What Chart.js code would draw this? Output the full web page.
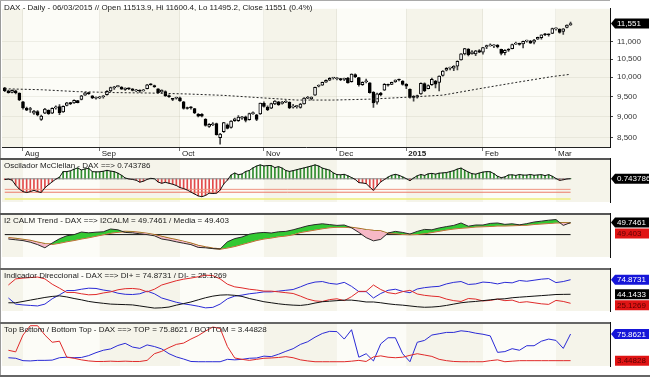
<!DOCTYPE html>
<html>
<head>
<meta charset="utf-8">
<script src="https://cdn.jsdelivr.net/npm/chart.js@4.4.1/dist/chart.umd.min.js"></script>
<style>
  body { margin: 0; background: #fff; }
  #wrap { position: relative; width: 650px; height: 377px; overflow: hidden; }
  #wrap canvas { position: absolute; left: 0; }
</style>
</head>
<body>
<div id="wrap">
  <canvas id="main" width="650" height="158" style="top:0"></canvas>
  <canvas id="mcc" width="650" height="55" style="top:158px"></canvas>
  <canvas id="calm" width="650" height="55" style="top:213px"></canvas>
  <canvas id="dmi" width="650" height="54" style="top:268px"></canvas>
  <canvas id="tb" width="650" height="55" style="top:322px"></canvas>
</div>
<script>
// daily bars, 25/07/2014 .. 06/03/2015 (index = trading day)
const monthStarts = [5, 26, 48, 71, 91, 110, 131, 151];
const monthLabels = ['Aug', 'Sep', 'Oct', 'Nov', 'Dec', '2015', 'Feb', 'Mar'];
const priceTicks = [8500, 9000, 9500, 10000, 10500, 11000];

const opens = [9720, 9640, 9600, 9640, 9580, 9360, 9200, 9170, 9080, 9120,
  8930, 9080, 9150, 9080, 9210, 9240, 9110, 9270, 9330, 9330,
  9390, 9420, 9530, 9590, 9510, 9450, 9460, 9490, 9540, 9640,
  9720, 9750, 9740, 9680, 9700, 9690, 9640, 9660, 9640, 9700,
  9810, 9770, 9690, 9610, 9620, 9520, 9440, 9450, 9460, 9360,
  9210, 9230, 9190, 9060, 9050, 8930, 8760, 8800, 8830, 8500,
  8640, 8800, 8740, 8900, 8900, 8960, 8990, 8920, 9070, 9040,
  9060, 9320, 9230, 9200, 9310, 9360, 9320, 9350, 9350, 9230,
  9240, 9220, 9310, 9450, 9440, 9530, 9760, 9790, 9870, 9920,
  9980, 9960, 9950, 9940, 9980, 9880, 10070, 9990, 9800, 9880,
  9850, 9600, 9350, 9580, 9660, 9800, 9810, 9880, 9930, 9900,
  9810, 9680, 9500, 9480, 9560, 9830, 9700, 9800, 9900, 9860,
  10050, 10190, 10250, 10250, 10300, 10480, 10650, 10790, 10650, 10650,
  10740, 10700, 10850, 10880, 10880, 10900, 10780, 10680, 10760, 10800,
  10930, 10950, 10940, 11020, 11020, 10990, 11080, 11120, 11220, 11220,
  11250, 11390, 11380, 11310, 11430, 11513.9];
const highs = [9735, 9660, 9670, 9660, 9590, 9370, 9230, 9220, 9150, 9140,
  9030, 9200, 9160, 9210, 9260, 9290, 9260, 9350, 9350, 9410,
  9400, 9525, 9600, 9600, 9520, 9490, 9500, 9520, 9650, 9740,
  9760, 9780, 9750, 9720, 9720, 9700, 9680, 9670, 9680, 9810,
  9830, 9790, 9700, 9670, 9640, 9540, 9450, 9480, 9480, 9370,
  9230, 9240, 9200, 9070, 9070, 8950, 8830, 8850, 8840, 8600,
  8860, 8820, 8900, 8960, 9020, 9000, 9010, 9080, 9110, 9050,
  9330, 9360, 9260, 9330, 9390, 9370, 9370, 9390, 9360, 9300,
  9270, 9320, 9470, 9500, 9490, 9740, 9800, 9870, 9930, 9990,
  10000, 9990, 9970, 9980, 10000, 10090, 10090, 10000, 9880, 9950,
  9860, 9620, 9580, 9600, 9830, 9820, 9870, 9930, 9950, 9910,
  9830, 9690, 9520, 9530, 9850, 9850, 9800, 9980, 9920, 10040,
  10180, 10260, 10280, 10320, 10450, 10660, 10810, 10800, 10740, 10750,
  10770, 10840, 10900, 10940, 10920, 10920, 10790, 10770, 10800, 10930,
  10990, 10960, 11020, 11050, 11040, 11070, 11140, 11210, 11250, 11240,
  11410, 11420, 11390, 11400, 11510, 11600.4];
const lows = [9620, 9580, 9590, 9560, 9390, 9180, 9140, 9100, 9050, 9010,
  8903, 9070, 9050, 9070, 9180, 9040, 9100, 9260, 9290, 9320,
  9330, 9410, 9520, 9550, 9440, 9430, 9440, 9450, 9530, 9620,
  9680, 9740, 9680, 9650, 9670, 9640, 9620, 9600, 9630, 9690,
  9790, 9730, 9580, 9590, 9500, 9470, 9390, 9430, 9370, 9180,
  9180, 9180, 9070, 8990, 8990, 8770, 8740, 8780, 8560, 8355,
  8620, 8700, 8720, 8880, 8880, 8930, 8870, 8910, 9050, 8900,
  9050, 9230, 9140, 9190, 9290, 9270, 9300, 9340, 9190, 9200,
  9200, 9200, 9300, 9440, 9410, 9520, 9740, 9780, 9860, 9910,
  9950, 9930, 9910, 9910, 9840, 9870, 9990, 9760, 9780, 9850,
  9580, 9219, 9300, 9510, 9650, 9760, 9800, 9860, 9900, 9790,
  9700, 9450, 9380, 9450, 9550, 9620, 9690, 9780, 9720, 9640,
  10030, 10170, 10200, 10180, 10200, 10470, 10620, 10590, 10640, 10600,
  10680, 10640, 10800, 10870, 10830, 10820, 10620, 10620, 10720, 10790,
  10920, 10900, 10820, 10990, 10950, 10940, 11070, 11080, 11180, 11170,
  11240, 11350, 11260, 11220, 11420, 11495.2];
const closes = [9644, 9593, 9653, 9593, 9407, 9210, 9154, 9189, 9130, 9038,
  9009, 9180, 9069, 9198, 9225, 9092, 9245, 9334, 9314, 9401,
  9339, 9510, 9588, 9569, 9462, 9470, 9479, 9507, 9627, 9724,
  9747, 9758, 9686, 9710, 9691, 9651, 9660, 9632, 9661, 9798,
  9799, 9749, 9596, 9661, 9510, 9490, 9422, 9474, 9382, 9195,
  9195, 9209, 9086, 9005, 9005, 8788, 8812, 8825, 8572, 8582,
  8850, 8717, 8886, 8940, 8987, 8988, 8902, 9068, 9083, 8926,
  9326, 9243, 9166, 9316, 9377, 9291, 9351, 9369, 9210, 9249,
  9252, 9306, 9456, 9473, 9483, 9732, 9785, 9861, 9916, 9974,
  9980, 9963, 9934, 9971, 9851, 10087, 10014, 9799, 9862, 9903,
  9594, 9334, 9563, 9544, 9811, 9787, 9865, 9922, 9927, 9806,
  9764, 9473, 9469, 9518, 9837, 9648, 9781, 9941, 9817, 10032,
  10167, 10242, 10257, 10299, 10435, 10649, 10798, 10628, 10710, 10738,
  10694, 10828, 10890, 10911, 10905, 10846, 10663, 10753, 10752, 10919,
  10963, 10924, 11014, 11037, 10961, 11050, 11131, 11206, 11211, 11210,
  11401, 11405, 11280, 11390, 11504, 11551];

// dotted moving average, read every 10 bars
const maIdx = [0, 10, 20, 30, 40, 50, 60, 70, 80, 90, 100, 110, 120, 130, 140, 150, 155];
const maVals = [9694, 9670, 9620, 9596, 9584, 9560, 9524, 9464, 9405, 9405, 9428, 9476, 9530, 9697, 9860, 10018, 10080];

// McClellan oscillator, one value per bar
const mcc = [-5, -2, -8, -40, -65, -80, -86, -80, -72, -80,
  -86, -56, -37, -19, -2, 10, 45, 45, 50, 60,
  68, 55, 62, 65, 45, 43, 44, 47, 53, 48,
  45, 35, 22, 5, -1, -4, -9, -21, -15, -4,
  3, 0, -20, -28, -22, -28, -34, -42, -55, -61,
  -70, -83, -95, -107, -112, -104, -90, -92, -90, -71,
  -32, -8, 24, 36, 26, 30, 46, 52, 68, 80,
  87, 80, 83, 83, 70, 76, 67, 52, 46, 51,
  57, 63, 68, 74, 80, 87, 80, 67, 60, 54,
  37, 26, 25, 28, 19, 8, -4, -24, -26, -30,
  -52, -72, -45, -19, -5, 11, 22, 28, 22, 12,
  1, -12, 5, 19, 27, 21, 31, 34, 29, 35,
  37, 39, 45, 51, 61, 67, 54, 42, 32, 29,
  36, 42, 45, 44, 32, 16, 7, 12, 24, 25,
  21, 27, 23, 23, 27, 22, 24, 26, 20, 26,
  16, 2, -10, -6, -1, 0.743786];
const mccLevels = [-66, -84];
const mccFloor = -127;

// the other indicators, read every second bar (bars 1, 3, 5 ... 155)
const calm = [36.43, 35.78, 35.13, 33.83, 31.88, 29.28, 33.18, 36.62, 39.03, 40.0,
  42.08, 41.43, 41.95, 42.28, 44.55, 43.9, 41.76, 41.43, 40.65, 40.0,
  39.03, 36.43, 35.45, 34.15, 32.98, 31.88, 29.6, 29.28, 28.63, 28.3,
  34.15, 36.75, 38.05, 40.33, 41.3, 41.76, 41.3, 42.28, 42.6, 43.9,
  45.53, 47.15, 48.13, 48.78, 48.13, 47.48, 47.8, 45.53, 41.76, 37.53,
  34.93, 36.1, 41.3, 42.6, 41.76, 40.46, 42.6, 44.23, 43.9, 45.4,
  46.5, 47.48, 49.43, 46.83, 47.8, 47.8, 49.1, 49.43, 48.32, 48.78,
  47.93, 48.91, 50.21, 50.92, 51.7, 52.22, 47.48, 49.7461];
const media = [37.4, 36.75, 36.1, 35.13, 33.83, 32.53, 32.2, 33.18, 34.48, 35.45,
  36.62, 37.73, 38.9, 40.1, 41.3, 42.2, 42.6, 42.4, 41.8, 41.0,
  39.9, 38.4, 37.1, 35.8, 34.5, 32.9, 31.2, 29.9, 28.95, 28.3,
  29.28, 30.58, 32.2, 33.83, 35.45, 36.62, 37.4, 38.38, 39.16, 40.0,
  41.82, 42.93, 43.9, 44.88, 45.72, 46.18, 46.18, 45.85, 44.88, 44.03,
  43.38, 42.93, 41.0, 40.98, 40.33, 40.0, 40.33, 40.98, 41.95, 42.93,
  43.9, 44.68, 45.33, 45.85, 46.37, 46.63, 46.83, 47.15, 47.28, 47.48,
  47.67, 47.8, 48.32, 48.78, 49.23, 49.62, 49.56, 49.403];
const calmLevel = 40;

const diPlus = [36.3, 23.4, 21.7, 20.6, 19.5, 23.4, 34.6, 43.0, 52.0, 52.0,
  54.8, 57.0, 56.4, 53.1, 50.8, 46.4, 44.1, 43.6, 45.2, 50.8,
  45.2, 36.3, 31.8, 27.3, 24.0, 21.7, 18.9, 15.5, 16.5, 23.4,
  34.6, 40.2, 42.4, 45.2, 46.9, 49.2, 49.2, 50.8, 52.5, 54.2,
  59.8, 66.0, 69.9, 71.0, 67.1, 65.4, 69.3, 60.9, 49.7, 49.7,
  36.3, 45.8, 52.5, 54.8, 50.3, 47.5, 55.3, 58.1, 59.8, 60.9,
  66.0, 69.3, 71.0, 64.8, 66.0, 69.9, 68.8, 66.0, 69.3, 68.2,
  73.2, 71.6, 73.8, 76.0, 77.2, 68.8, 71.0, 74.8731];
const diMinus = [63.7, 76.6, 78.3, 79.4, 80.5, 76.6, 65.4, 57.0, 48.0, 48.0,
  45.2, 43.0, 43.6, 46.9, 49.2, 53.6, 55.9, 56.4, 54.8, 49.2,
  54.8, 63.7, 68.2, 72.7, 76.0, 78.3, 81.1, 84.5, 83.5, 76.6,
  65.4, 59.8, 57.6, 54.8, 53.1, 50.8, 50.8, 49.2, 47.5, 45.8,
  40.2, 34.0, 30.1, 29.0, 32.9, 34.6, 30.7, 39.1, 50.3, 50.3,
  63.7, 54.2, 47.5, 45.2, 49.7, 52.5, 44.7, 41.9, 40.2, 39.1,
  34.0, 30.7, 29.0, 35.2, 34.0, 30.1, 31.2, 34.0, 30.7, 31.8,
  26.8, 28.4, 26.2, 24.0, 22.8, 31.2, 29.0, 25.1269];
const adx = [26.2, 26.2, 29.0, 31.8, 34.6, 37.4, 39.6, 40.8, 38.5, 35.2,
  32.4, 29.0, 26.8, 25.1, 23.4, 22.8, 22.3, 21.7, 19.5, 17.2,
  15.0, 15.6, 17.2, 21.2, 24.5, 27.9, 32.4, 36.8, 40.2, 42.4,
  43.0, 41.9, 39.6, 35.2, 31.8, 28.4, 26.2, 24.0, 22.3, 21.2,
  20.6, 22.3, 25.6, 28.4, 29.6, 30.7, 31.8, 31.8, 30.1, 27.9,
  27.9, 26.2, 24.0, 22.3, 21.2, 19.5, 17.8, 16.7, 17.2, 18.4,
  20.6, 23.4, 26.2, 27.9, 29.0, 30.7, 32.4, 34.0, 34.6, 36.8,
  38.0, 39.1, 40.2, 41.3, 42.4, 43.6, 43.9, 44.1433];

const tbTop = [11.4, 9.9, 3.4, 2.7, 4.2, 4.2, 4.9, 11.4, 12.8, 11.4,
  12.1, 17.2, 25.2, 31.7, 35.3, 44.7, 50.5, 40.4, 36.8, 46.2,
  41.8, 35.3, 22.3, 13.6, 7.8, 1.2, 0.5, 0.5, 0.5, 0.5,
  7.0, 5.6, 7.0, 9.9, 10.7, 15.7, 14.3, 20.8, 28.8, 36.0,
  47.6, 54.9, 67.2, 77.3, 83.1, 82.4, 62.1, 87.5, 12.8, 22.3,
  2.7, 49.1, 65.7, 65.7, 22.3, 0.5, 53.4, 58.5, 73.0, 76.6,
  80.2, 80.2, 84.6, 82.4, 78.1, 75.2, 70.8, 25.9, 28.1, 36.0,
  31.7, 44.0, 44.0, 56.3, 62.1, 58.5, 36.8, 75.8621];
const tbBottom = [31.7, 27.3, 73.0, 98.4, 98.4, 73.0, 53.4, 56.3, 12.8, 9.9,
  5.6, 2.7, 1.2, 1.2, 2.0, 1.2, 2.0, 1.2, 1.2, 4.2,
  22.3, 28.8, 38.9, 47.6, 51.2, 62.1, 71.5, 83.9, 94.7, 91.1,
  41.8, 10.7, 7.0, 4.2, 7.0, 9.9, 10.7, 12.1, 14.3, 11.4,
  5.6, 2.7, 0.5, 0.5, 0.5, 0.5, 0.5, 2.0, 4.2, 1.2,
  13.6, 16.5, 12.8, 11.4, 12.8, 17.9, 22.3, 18.7, 15.0, 7.0,
  3.4, 1.2, 0.5, 0.5, 0.5, 0.5, 3.4, 5.6, 0.5, 2.0,
  3.4, 3.4, 3.4, 3.4, 3.4, 3.4, 3.4, 3.44828];

const FONT = '"Liberation Sans", Arial, sans-serif';
Chart.defaults.font.family = FONT;
Chart.defaults.font.size = 8;
Chart.defaults.animation = false;

const lastOf = a => a[a.length - 1];
const days = closes.map((_, i) => i);
const stepIdx = calm.map((_, k) => 1 + 2 * k);
const pts = (xs, ys) => ys.map((y, j) => ({ x: xs[j], y }));
const flat = v => [{ x: days[0], y: v }, { x: lastOf(days), y: v }];
const X_MIN = -0.75, X_MAX = 165.8;

const BLACK = '#000', RED = '#e01414', BLUE = '#1616d8';

// month bands, frame lines, panel title and the value tags on the right
const panelPlugin = {
    id: 'panel',
    beforeDraw(chart) {
        const { ctx, chartArea: a, scales: { x } } = chart;
        ctx.save();
        ctx.fillStyle = '#f5f4ea';
        ctx.fillRect(a.left, a.top, a.right - a.left, a.bottom - a.top);
        ctx.fillStyle = '#fcfcf7';
        for (let j = 0; j < monthStarts.length; j += 2) {
            const x0 = x.getPixelForValue(monthStarts[j]);
            const x1 = j + 1 < monthStarts.length ? x.getPixelForValue(monthStarts[j + 1]) : a.right;
            ctx.fillRect(x0, a.top, x1 - x0, a.bottom - a.top);
        }
        ctx.restore();
    },
    afterDraw(chart, args, opts) {
        const { ctx, chartArea: a, scales: { y }, width, height } = chart;
        ctx.save();
        ctx.fillStyle = '#9a9a9a';
        ctx.fillRect(0, 0, 1, height);
        if (opts.topLine) {
            ctx.fillStyle = opts.topLine;
            ctx.fillRect(0, 0, a.right, opts.topWidth || 2);
        }
        if (opts.bottomLine) {
            ctx.fillStyle = opts.bottomLine;
            ctx.fillRect(0, height - 2, width, 2);
        }
        ctx.font = '8px ' + FONT;
        ctx.textBaseline = 'middle';
        ctx.textAlign = 'left';
        ctx.fillStyle = '#1a1a1a';
        ctx.fillText(opts.title, a.left + 2, 8);

        const H = 10;
        let prev = -Infinity;
        (opts.tags || []).forEach(t => {
            let py = y.getPixelForValue(t.value);
            if (py < prev + H + 1) py = prev + H + 1;
            prev = py;
            const bx = a.right + 5;
            ctx.fillStyle = t.bg;
            ctx.beginPath();
            if (t.arrow) {
                ctx.moveTo(a.right + 1, py);
                ctx.lineTo(bx, py - H / 2);
                ctx.lineTo(width - 1, py - H / 2);
                ctx.lineTo(width - 1, py + H / 2);
                ctx.lineTo(bx, py + H / 2);
            } else {
                ctx.rect(bx, py - H / 2, width - 1 - bx, H);
            }
            ctx.closePath();
            ctx.fill();
            ctx.fillStyle = t.fg;
            ctx.fillText(t.text, bx + 2, py + 0.5);
        });
        ctx.restore();
    }
};

function xAxis(show) {
    return {
        type: 'linear', min: X_MIN, max: X_MAX, offset: false, display: show,
        afterBuildTicks: s => { s.ticks = monthStarts.map(v => ({ value: v })); },
        afterFit: s => { s.height = 11; },
        grid: { offset: false, color: 'rgba(120,120,90,0.10)', tickColor: '#777', tickLength: 4 },
        border: { color: '#222', width: 1 },
        ticks: {
            autoSkip: false, maxRotation: 0, align: 'start', labelOffset: 2, padding: -2, color: '#222',
            font: c => ({ size: 8, weight: c.tick && c.tick.value === monthStarts[5] ? 'bold' : 'normal' }),
            callback: v => monthLabels[monthStarts.indexOf(v)]
        }
    };
}

function yPanel(min, max) {
    return {
        position: 'right', min, max, beginAtZero: false,
        afterFit: s => { s.width = 40; },
        grid: { display: false },
        ticks: { display: false },
        border: { color: '#111', width: 1 }
    };
}

function line(data, color, width, extra) {
    return Object.assign({ type: 'line', data, borderColor: color, borderWidth: width || 1,
        pointRadius: 0, tension: 0, fill: false }, extra || {});
}

function baseOptions(scales, panel) {
    return {
        responsive: false, devicePixelRatio: 1, animation: false,
        layout: { padding: { left: 2, right: 0, top: 0, bottom: 0 } },
        plugins: { legend: { display: false }, tooltip: { enabled: false }, panel },
        scales
    };
}

// --- price panel ---
const pct = ((lastOf(closes) / closes[closes.length - 2] - 1) * 100).toFixed(1);
new Chart(document.getElementById('main'), {
    type: 'bar',
    data: {
        datasets: [
            line(pts(maIdx, maVals), '#222', 1, { borderDash: [2, 2], order: 1 }),
            {
                type: 'bar', order: 2, grouped: false, barThickness: 3, minBarLength: 1,
                data: days.map(i => ({ x: i, y: [opens[i], closes[i]] })),
                backgroundColor: days.map(i => closes[i] >= opens[i] ? '#ffffff' : '#000000'),
                borderColor: '#000', borderWidth: 1, borderSkipped: false
            },
            {
                type: 'bar', order: 3, grouped: false, barThickness: 1,
                data: days.map(i => ({ x: i, y: [lows[i], highs[i]] })),
                backgroundColor: '#444'
            }
        ]
    },
    options: baseOptions({
        x: xAxis(true),
        y: {
            type: 'logarithmic', position: 'right', min: 8290, max: 12020, beginAtZero: false,
            afterFit: s => { s.width = 40; },
            afterBuildTicks: s => { s.ticks = priceTicks.map(v => ({ value: v })); },
            grid: { color: 'rgba(120,120,90,0.10)', tickColor: '#444', tickLength: 3 },
            border: { color: '#111', width: 1 },
            ticks: { padding: 4, color: '#333', font: { size: 8 }, callback: v => v.toLocaleString('en-US') }
        }
    }, {
        title: `DAX - Daily - 06/03/2015 // Open ${lastOf(opens)}, Hi ${lastOf(highs)}, Lo ${lastOf(lows)}, Close ${lastOf(closes)} (${pct}%)`,
        topLine: '#aaa', topWidth: 1,
        tags: [{ value: lastOf(closes), text: lastOf(closes).toLocaleString('en-US'), bg: BLACK, fg: '#fff', arrow: true }]
    }),
    plugins: [panelPlugin]
});

// --- McClellan oscillator ---
new Chart(document.getElementById('mcc'), {
    type: 'bar',
    data: {
        datasets: [
            line(pts(days, mcc), '#111', 1, { order: 0 }),
            line(flat(0), '#8c8c8c', 1, { order: 1 }),
            line(flat(mccLevels[0]), '#f09482', 1, { order: 1 }),
            line(flat(mccLevels[1]), '#ec7a68', 1, { order: 1 }),
            line(flat(mccFloor), '#eeee78', 1.5, { order: 1 }),
            {
                type: 'bar', order: 2, grouped: false, barThickness: 1,
                data: pts(days, mcc),
                backgroundColor: mcc.map(v => v >= 0 ? '#2e8c2e' : '#e24a4a')
            }
        ]
    },
    options: baseOptions({ x: xAxis(false), y: yPanel(-145, 130) }, {
        title: `Oscilador McClellan - DAX ==> ${lastOf(mcc)}`,
        topLine: '#555',
        tags: [{ value: lastOf(mcc), text: String(lastOf(mcc)), bg: BLACK, fg: '#fff', arrow: true }]
    }),
    plugins: [panelPlugin]
});

// --- I2 CALM trend ---
new Chart(document.getElementById('calm'), {
    type: 'line',
    data: {
        datasets: [
            line(pts(stepIdx, media), '#b4641e', 1.5, { order: 1 }),
            line(pts(stepIdx, calm), '#2a2a2a', 1, { order: 0, fill: { target: 0, above: '#33c933', below: '#f6b8c6' } }),
            line(flat(calmLevel), '#111', 1, { order: 2 })
        ]
    },
    options: baseOptions({ x: xAxis(false), y: yPanel(21.8, 57.55) }, {
        title: `I2 CALM Trend - DAX ==> I2CALM = ${lastOf(calm)} / Media = ${lastOf(media)}`,
        topLine: '#555',
        tags: [
            { value: lastOf(calm), text: String(lastOf(calm)), bg: BLACK, fg: '#fff', arrow: true },
            { value: lastOf(media), text: String(lastOf(media)), bg: RED, fg: '#5a0000' }
        ]
    }),
    plugins: [panelPlugin]
});

// --- directional indicator ---
new Chart(document.getElementById('dmi'), {
    type: 'line',
    data: {
        datasets: [
            line(pts(stepIdx, adx), '#111', 1),
            line(pts(stepIdx, diMinus), '#e02a2a', 1),
            line(pts(stepIdx, diPlus), '#2a2ad6', 1)
        ]
    },
    options: baseOptions({ x: xAxis(false), y: yPanel(8.85, 99.57) }, {
        title: `Indicador Direccional - DAX ==> DI+ = ${lastOf(diPlus)} / DI- = ${lastOf(diMinus)}`,
        topLine: '#666',
        tags: [
            { value: lastOf(diPlus), text: String(lastOf(diPlus)), bg: BLUE, fg: '#fff', arrow: true },
            { value: lastOf(adx), text: String(lastOf(adx)), bg: BLACK, fg: '#fff' },
            { value: lastOf(diMinus), text: String(lastOf(diMinus)), bg: RED, fg: '#5a0000' }
        ]
    }),
    plugins: [panelPlugin]
});

// --- top bottom / bottom top ---
new Chart(document.getElementById('tb'), {
    type: 'line',
    data: {
        datasets: [
            line(pts(stepIdx, tbBottom), '#e02a2a', 1),
            line(pts(stepIdx, tbTop), '#2a2ad6', 1)
        ]
    },
    options: baseOptions({ x: xAxis(false), y: yPanel(-11.1, 108.5) }, {
        title: `Top Bottom / Bottom Top - DAX ==> TOP = ${lastOf(tbTop)} / BOTTOM = ${lastOf(tbBottom)}`,
        topLine: '#666', bottomLine: '#666',
        tags: [
            { value: lastOf(tbTop), text: String(lastOf(tbTop)), bg: BLUE, fg: '#fff', arrow: true },
            { value: lastOf(tbBottom), text: String(lastOf(tbBottom)), bg: RED, fg: '#5a0000' }
        ]
    }),
    plugins: [panelPlugin]
});
</script>
</body>
</html>
